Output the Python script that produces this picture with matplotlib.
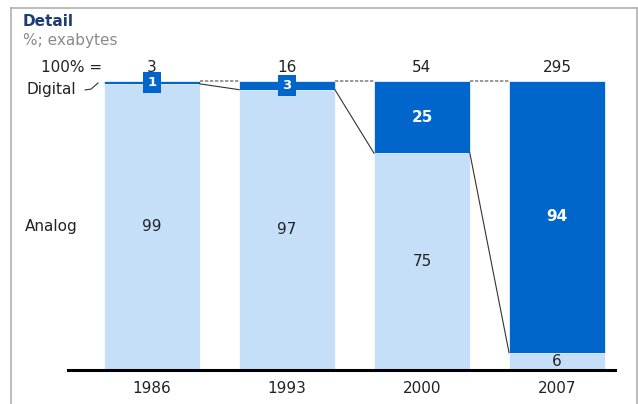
import matplotlib
matplotlib.use("Agg")
import matplotlib.pyplot as plt
from matplotlib.lines import Line2D

plt.rcParams['font.family'] = ['DejaVu Sans']

years = ["1986", "1993", "2000", "2007"]
totals = ["3", "16", "54", "295"]
digital = [1, 3, 25, 94]
analog = [99, 97, 75, 6]

DARK = "#0066CC"
LIGHT = "#C6DFF8"
TXT = "#222222"
FS = 11

W, H = 638, 404
fig = plt.figure(figsize=(W / 100, H / 100), dpi=100)

# frame
for xs_, ys_ in [((10.5, 10.5), (0, 396)), ((10.5, 637), (396, 396)), ((637, 637), (396, 0))]:
    fig.add_artist(Line2D([x / W for x in xs_], [y / H for y in ys_], color="#B0B0B0", lw=1.2))

x_left, x_right = 68.3, 615
y_bot, y_top = 370, 81
ax = fig.add_axes([x_left / W, (H - y_bot) / H, (x_right - x_left) / W, (y_bot - y_top) / H])
ax.set_xlim(-0.62, 3.43)
ax.set_ylim(0, 100)
ax.axis("off")

bw = 0.71
xs = list(range(len(years)))
ax.bar(xs, analog, width=bw, color=LIGHT, edgecolor="white", linewidth=0.5)
ax.bar(xs, digital, bottom=analog, width=bw, color=DARK, edgecolor="white", linewidth=0.5)

ax.axhline(0, color="black", lw=2.2, clip_on=False)

for i in xs:
    ax.text(i, 104.6, totals[i], ha="center", va="center", fontsize=FS, color=TXT)
    ax.text(i, -6.4, years[i], ha="center", va="center", fontsize=FS, color=TXT)
    ax.text(i, analog[i] / 2, str(analog[i]), ha="center", va="center", fontsize=FS, color=TXT)
    if digital[i] >= 10:
        ax.text(i, analog[i] + digital[i] / 2, str(digital[i]), ha="center", va="center",
                fontsize=FS, color="white", fontweight="bold")
    else:
        ax.text(i, analog[i] + digital[i] / 2, str(digital[i]), ha="center", va="center",
                fontsize=9.5, color="white", fontweight="bold",
                bbox=dict(boxstyle="square,pad=0.32", fc=DARK, ec="none"))

# connectors
for i in range(len(years) - 1):
    ax.plot([i + bw / 2, i + 1 - bw / 2], [100, 100], color="#888888", lw=1.2,
            ls=(0, (2, 1)), clip_on=False)
    ax.plot([i + bw / 2, i + 1 - bw / 2], [analog[i], analog[i + 1]], color="#333333", lw=0.8,
            clip_on=False)

# left labels
ax.text(-0.37, 104.6, "100% =", ha="right", va="center", fontsize=FS, color=TXT)
ax.text(-0.926, 97.0, "Digital", ha="left", va="center", fontsize=FS, color=TXT)
ax.plot([-0.496, -0.452, -0.40], [96.9, 97.2, 99.3], color="#333333", lw=0.8, clip_on=False)
ax.text(-0.941, 49.5, "Analog", ha="left", va="center", fontsize=FS, color=TXT)

fig.text(23 / W, 1 - 22 / H, "Detail", ha="left", va="center", fontsize=FS,
         fontweight="bold", color="#1F3B73")
fig.text(23 / W, 1 - 40 / H, "%; exabytes", ha="left", va="center", fontsize=FS,
         color="#8A8A8A")

fig.savefig("out.png", dpi=100)
